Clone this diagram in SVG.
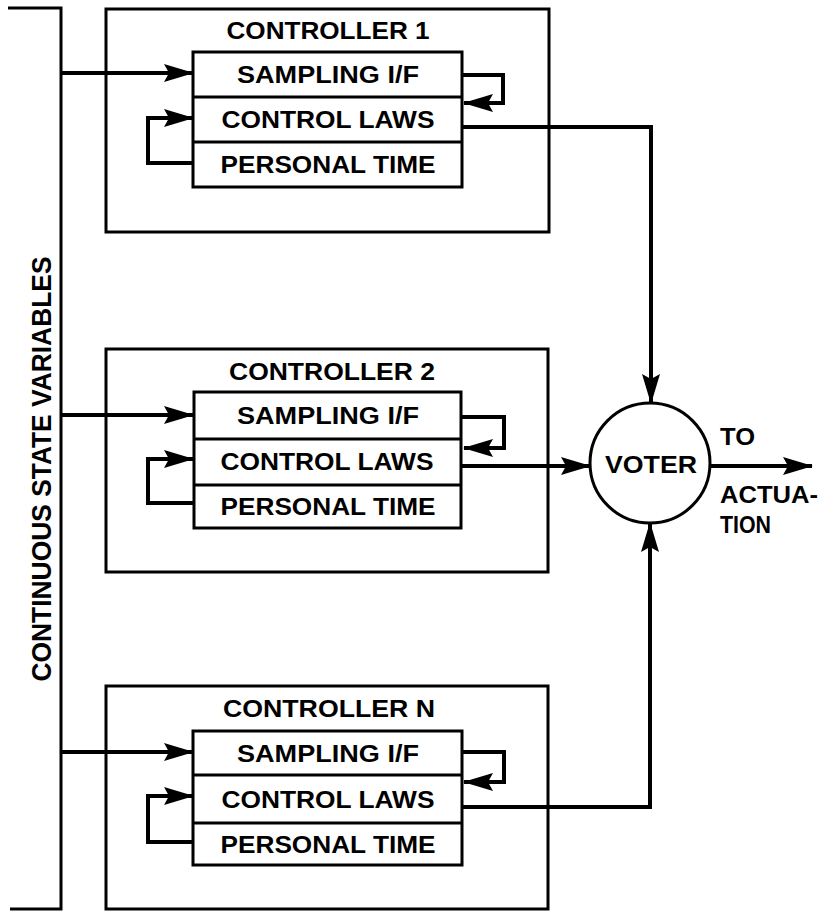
<svg xmlns="http://www.w3.org/2000/svg" width="827" height="913" viewBox="0 0 827 913">
  <style>
    .box { fill: #fff; stroke: #000; stroke-width: 3; }
    .div { stroke: #000; stroke-width: 3; fill: none; }
    .wire { fill: none; stroke: #000; stroke-width: 4; stroke-linejoin: miter; }
    .bus { fill: none; stroke: #000; stroke-width: 3; }
    .lbl { font-family: "Liberation Sans", Arial, sans-serif; font-weight: bold; font-size: 24px; fill: #000; }
    .mid { text-anchor: middle; }
  </style>
  <defs>
    <marker id="arrow" viewBox="0 0 30 18" refX="29" refY="9" markerWidth="30" markerHeight="18" markerUnits="userSpaceOnUse" orient="auto">
      <path d="M0,0 L30,9 L0,18 L5,9 z" fill="#000"/>
    </marker>
  </defs>

  <rect width="827" height="913" fill="#fff"/>

  <!-- continuous state variable bus -->
  <g id="state-bus">
    <path class="bus" d="M8,8 H61 V909 H10"/>
    <text class="lbl mid" transform="translate(51,469) rotate(-90)" textLength="425" lengthAdjust="spacingAndGlyphs" style="font-size:27px">CONTINUOUS STATE VARIABLES</text>
  </g>

  <!-- controller 1 -->
  <g id="controller-1" transform="translate(0,9)">
    <rect class="box" x="106" y="0" width="443" height="223"/>
    <text class="lbl mid" x="328" y="30" textLength="203" lengthAdjust="spacingAndGlyphs">CONTROLLER 1</text>
    <rect class="box" x="193" y="43" width="269" height="135"/>
    <line class="div" x1="193" y1="88" x2="462" y2="88"/>
    <line class="div" x1="193" y1="133" x2="462" y2="133"/>
    <text class="lbl mid" x="328" y="74" textLength="182" lengthAdjust="spacingAndGlyphs">SAMPLING I/F</text>
    <text class="lbl mid" x="328" y="119" textLength="213" lengthAdjust="spacingAndGlyphs">CONTROL LAWS</text>
    <text class="lbl mid" x="328" y="164" textLength="215" lengthAdjust="spacingAndGlyphs">PERSONAL TIME</text>
  </g>

  <!-- controller 2 -->
  <g id="controller-2" transform="translate(0,349)">
    <rect class="box" x="106" y="0" width="442" height="223"/>
    <text class="lbl mid" x="332" y="31" textLength="206" lengthAdjust="spacingAndGlyphs">CONTROLLER 2</text>
    <rect class="box" x="194" y="43" width="267" height="136"/>
    <line class="div" x1="194" y1="90" x2="461" y2="90"/>
    <line class="div" x1="194" y1="136" x2="461" y2="136"/>
    <text class="lbl mid" x="328" y="75" textLength="182" lengthAdjust="spacingAndGlyphs">SAMPLING I/F</text>
    <text class="lbl mid" x="327" y="121" textLength="213" lengthAdjust="spacingAndGlyphs">CONTROL LAWS</text>
    <text class="lbl mid" x="328" y="166" textLength="215" lengthAdjust="spacingAndGlyphs">PERSONAL TIME</text>
  </g>

  <!-- controller N -->
  <g id="controller-n" transform="translate(0,686)">
    <rect class="box" x="106" y="0" width="442" height="223"/>
    <text class="lbl mid" x="329" y="31" textLength="212" lengthAdjust="spacingAndGlyphs">CONTROLLER N</text>
    <rect class="box" x="193" y="45" width="269" height="134"/>
    <line class="div" x1="193" y1="89" x2="462" y2="89"/>
    <line class="div" x1="193" y1="137" x2="462" y2="137"/>
    <text class="lbl mid" x="328" y="76" textLength="182" lengthAdjust="spacingAndGlyphs">SAMPLING I/F</text>
    <text class="lbl mid" x="328" y="122" textLength="213" lengthAdjust="spacingAndGlyphs">CONTROL LAWS</text>
    <text class="lbl mid" x="328" y="167" textLength="215" lengthAdjust="spacingAndGlyphs">PERSONAL TIME</text>
  </g>

  <!-- voter -->
  <g id="voter">
    <circle cx="650" cy="463" r="60" fill="#fff" stroke="#000" stroke-width="3"/>
    <text class="lbl mid" x="651" y="473" textLength="92" lengthAdjust="spacingAndGlyphs">VOTER</text>
  </g>

  <!-- output label -->
  <g id="actuation-label">
    <text class="lbl" x="720" y="445" textLength="35" lengthAdjust="spacingAndGlyphs">TO</text>
    <text class="lbl" x="720" y="503" textLength="98" lengthAdjust="spacingAndGlyphs">ACTUA-</text>
    <text class="lbl" x="720" y="533" textLength="51" lengthAdjust="spacingAndGlyphs">TION</text>
  </g>

  <!-- connectors -->
  <g id="connectors">
    <!-- controller 1 -->
    <path class="wire" d="M61,73 H193" marker-end="url(#arrow)"/>
    <path class="wire" d="M193,163 H148 V118 H193" marker-end="url(#arrow)"/>
    <path class="wire" d="M462,75 H503 V103 H464" marker-end="url(#arrow)"/>
    <path class="wire" d="M462,127 H651 V403" marker-end="url(#arrow)"/>
    <!-- controller 2 -->
    <path class="wire" d="M61,415 H193" marker-end="url(#arrow)"/>
    <path class="wire" d="M193,503 H148 V459 H193" marker-end="url(#arrow)"/>
    <path class="wire" d="M462,417 H504 V448 H464" marker-end="url(#arrow)"/>
    <path class="wire" d="M462,466 H590" marker-end="url(#arrow)"/>
    <!-- controller N -->
    <path class="wire" d="M61,752 H193" marker-end="url(#arrow)"/>
    <path class="wire" d="M193,842 H148 V796 H193" marker-end="url(#arrow)"/>
    <path class="wire" d="M462,752 H504 V782 H464" marker-end="url(#arrow)"/>
    <path class="wire" d="M462,807 H650 V523" marker-end="url(#arrow)"/>
    <!-- voter output -->
    <path class="wire" d="M710,466 H812" marker-end="url(#arrow)"/>
  </g>
</svg>
